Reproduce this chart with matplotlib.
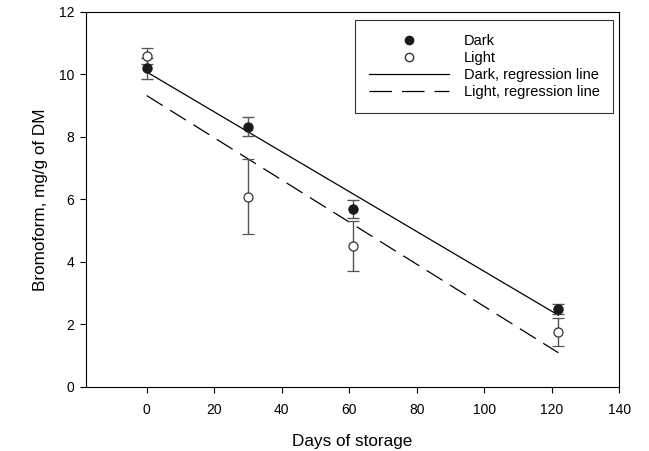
import numpy as np
import matplotlib
matplotlib.use("Agg")
import matplotlib.pyplot as plt
from matplotlib.lines import Line2D

# Data
days = [0, 30, 61, 122]
dark_mean = [10.2, 8.33, 5.7, 2.5]
dark_err = [0.33, 0.3, 0.28, 0.15]
light_mean = [10.6, 6.08, 4.5, 1.75]
light_err = [0.25, 1.2, 0.8, 0.45]

plt.rcParams['font.family'] = ['Liberation Sans', 'DejaVu Sans']

fig = plt.figure(figsize=(6.49, 4.51), dpi=100)
ax = fig.add_axes([0.1325, 0.142, 0.8215, 0.8314])

# regression lines
x_fit = np.array([days[0], days[-1]])
p_dark = np.polyfit(days, dark_mean, 1)
p_light = np.polyfit(days, light_mean, 1)
ax.plot(x_fit, np.polyval(p_dark, x_fit), color="black", lw=0.9)
ax.plot(x_fit, np.polyval(p_light, x_fit), color="black", lw=0.9, dashes=(15, 7))

# error bars + points
ax.errorbar(days, light_mean, yerr=light_err, fmt="o", mfc="white", mec="#333333",
            ms=6.5, mew=0.9, ecolor="#555555", elinewidth=1, capsize=4.5, capthick=1)
ax.errorbar(days, dark_mean, yerr=dark_err, fmt="o", mfc="#1a1a1a", mec="#1a1a1a",
            ms=6.5, ecolor="#555555", elinewidth=1, capsize=4.5, capthick=1)

ax.set_xlim(-18, 140)
ax.set_ylim(0, 12)
ax.set_xticks(range(0, 141, 20))
ax.set_yticks(range(0, 13, 2))
ax.tick_params(direction="out", length=4.5, width=0.8, labelsize=10, top=False, right=False)
ax.tick_params(axis="x", pad=7)
ax.tick_params(axis="y", pad=4)
for s in ax.spines.values():
    s.set_linewidth(0.8)

ax.set_xlabel("Days of storage", fontsize=12.3, labelpad=12)
ax.set_ylabel("Bromoform, mg/g of DM", fontsize=12.3, labelpad=8)

handles = [
    Line2D([], [], ls="none", marker="o", mfc="#1a1a1a", mec="#1a1a1a", ms=6),
    Line2D([], [], ls="none", marker="o", mfc="white", mec="#333333", ms=6),
    Line2D([], [], color="black", lw=0.9),
    Line2D([], [], color="black", lw=0.9, dashes=(18, 8)),
]
labels = ["Dark", "Light", "Dark, regression line", "Light, regression line"]
leg = ax.legend(handles, labels, loc="upper right", bbox_to_anchor=(0.989, 0.979),
                fontsize=10.5, frameon=True, fancybox=False, edgecolor="black",
                handlelength=5.5, handletextpad=1.0, borderpad=0.95, labelspacing=0.22,
                borderaxespad=0)
leg.get_frame().set_linewidth(0.8)

fig.savefig("out.png", dpi=100)
